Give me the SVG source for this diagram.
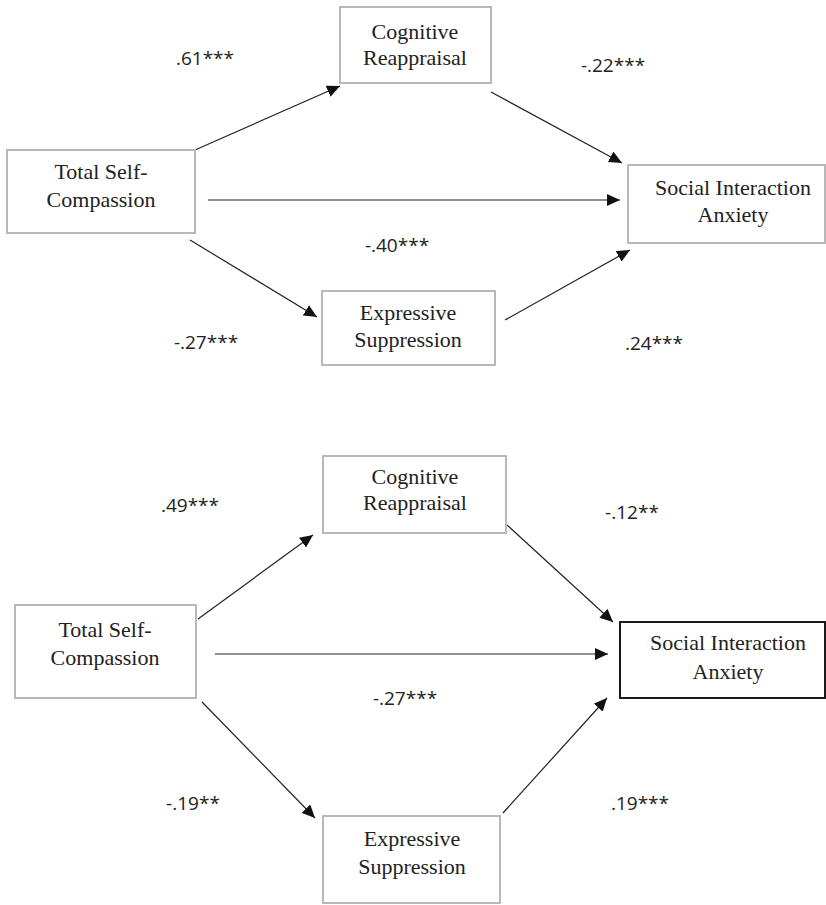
<svg xmlns="http://www.w3.org/2000/svg" width="826" height="905" viewBox="0 0 826 905">
<defs>
<style>
.box{fill:#ffffff;stroke:#b8b8b8;stroke-width:2}
.boxdark{fill:#ffffff;stroke:#1a1a1a;stroke-width:2}
.nt{font-family:"Liberation Serif","Times New Roman",serif;font-size:22px;fill:#222;text-anchor:middle}
.lb{font-family:"Open Sans","Liberation Sans",sans-serif;font-size:19px;fill:#222;text-anchor:middle}
.cn{stroke:#222;stroke-width:1.2;fill:none;marker-end:url(#ah)}
</style>
<marker id="ah" markerUnits="userSpaceOnUse" markerWidth="14" markerHeight="12" refX="13" refY="6" orient="auto">
<path d="M0,0 L13,6 L0,12 Z" fill="#111"/>
</marker>
</defs>
<rect width="826" height="905" fill="#ffffff"/>

<g id="connectors">
<line class="cn" x1="195" y1="150" x2="340" y2="86"/>
<line class="cn" x1="491" y1="92" x2="622" y2="163"/>
<line class="cn" x1="208" y1="200" x2="620" y2="200"/>
<line class="cn" x1="190" y1="240" x2="317" y2="317"/>
<line class="cn" x1="505" y1="320" x2="630" y2="250"/>
<line class="cn" x1="198" y1="619" x2="313" y2="535"/>
<line class="cn" x1="507" y1="525" x2="613" y2="622"/>
<line class="cn" x1="215" y1="654" x2="608" y2="654"/>
<line class="cn" x1="202" y1="702" x2="315" y2="818"/>
<line class="cn" x1="503" y1="813" x2="607" y2="698"/>
</g>

<g id="labels">
<text class="lb" x="205" y="65">.61***</text>
<text class="lb" x="613" y="72">-.22***</text>
<text class="lb" x="397" y="252">-.40***</text>
<text class="lb" x="206" y="349">-.27***</text>
<text class="lb" x="654" y="350">.24***</text>
<text class="lb" x="190" y="512">.49***</text>
<text class="lb" x="632" y="519">-.12**</text>
<text class="lb" x="405" y="705">-.27***</text>
<text class="lb" x="193" y="810">-.19**</text>
<text class="lb" x="640" y="810">.19***</text>
</g>

<g id="top-cognitive-reappraisal">
<rect class="box" x="340" y="7" width="151" height="76"/>
<text class="nt" x="415" y="39">Cognitive</text>
<text class="nt" x="415" y="65">Reappraisal</text>
</g>
<g id="top-total-self-compassion">
<rect class="box" x="7" y="150" width="188" height="83"/>
<text class="nt" x="101" y="179">Total Self-</text>
<text class="nt" x="101" y="207">Compassion</text>
</g>
<g id="top-social-interaction-anxiety">
<rect class="box" x="628" y="165" width="197" height="78"/>
<text class="nt" x="733" y="195">Social Interaction</text>
<text class="nt" x="733" y="222">Anxiety</text>
</g>
<g id="top-expressive-suppression">
<rect class="box" x="322" y="291" width="173" height="74"/>
<text class="nt" x="408" y="320">Expressive</text>
<text class="nt" x="408" y="347">Suppression</text>
</g>

<g id="bottom-cognitive-reappraisal">
<rect class="box" x="323" y="456" width="183" height="77"/>
<text class="nt" x="415" y="484">Cognitive</text>
<text class="nt" x="415" y="510">Reappraisal</text>
</g>
<g id="bottom-total-self-compassion">
<rect class="box" x="15" y="605" width="181" height="93"/>
<text class="nt" x="105" y="637">Total Self-</text>
<text class="nt" x="105" y="665">Compassion</text>
</g>
<g id="bottom-social-interaction-anxiety">
<rect class="boxdark" x="620" y="622" width="205" height="76"/>
<text class="nt" x="728" y="650">Social Interaction</text>
<text class="nt" x="728" y="679">Anxiety</text>
</g>
<g id="bottom-expressive-suppression">
<rect class="box" x="323" y="816" width="177" height="87"/>
<text class="nt" x="412" y="846">Expressive</text>
<text class="nt" x="412" y="874">Suppression</text>
</g>
</svg>
